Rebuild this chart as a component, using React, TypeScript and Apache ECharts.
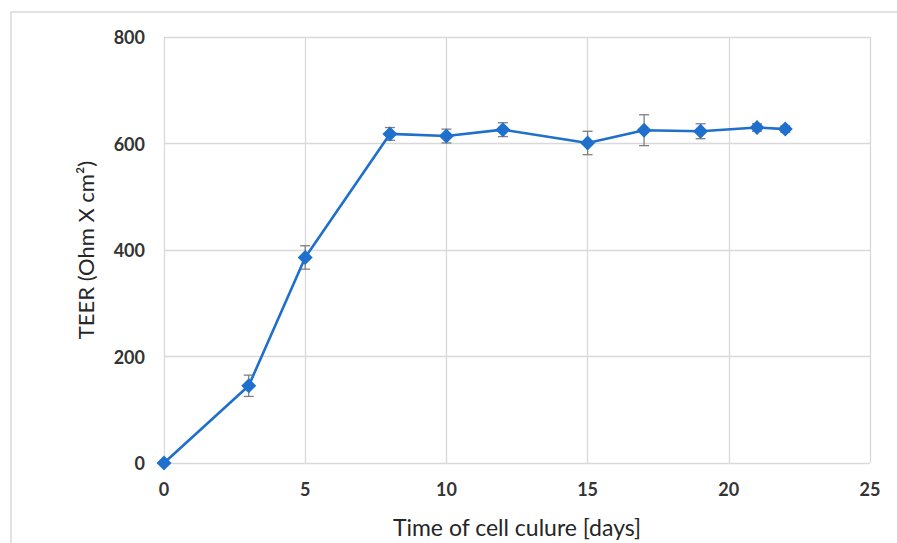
import React, { useEffect, useRef } from "react";
import * as echarts from "echarts";

const days = [0, 3, 5, 8, 10, 12, 15, 17, 19, 21, 22];
const teer = [0, 145, 386, 618, 614, 626, 601, 625, 623, 630, 627];
const errs = [0, 20, 22, 12, 13, 13, 22, 29, 14, 7, 6];
const xTicks = [0, 5, 10, 15, 20, 25];
const yTicks = [0, 200, 400, 600, 800];
const xTitle = "Time of cell culure [days]";
const yTitle = "TEER (Ohm X cm\u00B2)";

export default function App() {
  const ref = useRef<HTMLDivElement>(null);
  useEffect(() => {
    if (!ref.current) return;
    const chart = echarts.init(ref.current, null, { renderer: "svg" });
    const font = "Lato, 'Open Sans', sans-serif";
    const lineData = days.map((d, i) => [d, teer[i]]);
    const errData = days.map((d, i) => [d, teer[i] - errs[i], teer[i] + errs[i]]);
    chart.setOption({
      animation: false,
      backgroundColor: "#ffffff",
      graphic: [
        {
          type: "rect",
          shape: { x: 11, y: 12, width: 900, height: 540 },
          style: { fill: "none", stroke: "#d9d9d9", lineWidth: 1.5 },
          z: -1,
        },
      ],
      grid: { left: 164, right: 27, top: 37, bottom: 80, containLabel: false },
      xAxis: {
        type: "value",
        min: xTicks[0],
        max: xTicks[xTicks.length - 1],
        interval: 5,
        name: xTitle,
        nameLocation: "middle",
        nameGap: 52,
        nameTextStyle: { fontFamily: font, fontSize: 23, color: "#262626" },
        axisLine: { show: false },
        axisTick: { show: false },
        axisLabel: { fontFamily: font, fontSize: 18, fontWeight: "bold", color: "#333333", margin: 17 },
        splitLine: { show: true, lineStyle: { color: "#d9d9d9", width: 1.3 } },
      },
      yAxis: {
        type: "value",
        min: yTicks[0],
        max: yTicks[yTicks.length - 1],
        interval: 200,
        name: yTitle,
        nameLocation: "middle",
        nameGap: 68,
        nameTextStyle: { fontFamily: font, fontSize: 22, color: "#262626" },
        axisLine: { show: false },
        axisTick: { show: false },
        axisLabel: { fontFamily: font, fontSize: 18, fontWeight: "bold", color: "#333333", margin: 19 },
        splitLine: { show: true, lineStyle: { color: "#d9d9d9", width: 1.3 } },
      },
      series: [
        {
          type: "custom",
          z: 1,
          data: errData,
          renderItem: (params: any, api: any) => {
            const x = api.value(0);
            const lo = api.coord([x, api.value(1)]);
            const hi = api.coord([x, api.value(2)]);
            const cap = 5;
            const style = { stroke: "#7f7f7f", lineWidth: 1.3 };
            return {
              type: "group",
              children: [
                { type: "line", shape: { x1: lo[0], y1: lo[1], x2: hi[0], y2: hi[1] }, style },
                { type: "line", shape: { x1: lo[0] - cap, y1: lo[1], x2: lo[0] + cap, y2: lo[1] }, style },
                { type: "line", shape: { x1: hi[0] - cap, y1: hi[1], x2: hi[0] + cap, y2: hi[1] }, style },
              ],
            };
          },
        },
        {
          type: "line",
          z: 2,
          data: lineData,
          symbol: "diamond",
          symbolSize: 15,
          lineStyle: { color: "#1f6fcc", width: 2.6 },
          itemStyle: { color: "#1f6fcc" },
        },
      ],
    });
    return () => chart.dispose();
  }, []);
  return (
    <div
      ref={ref}
      style={{ position: "fixed", left: 0, top: 0, width: 897, height: 543 }}
    />
  );
}
